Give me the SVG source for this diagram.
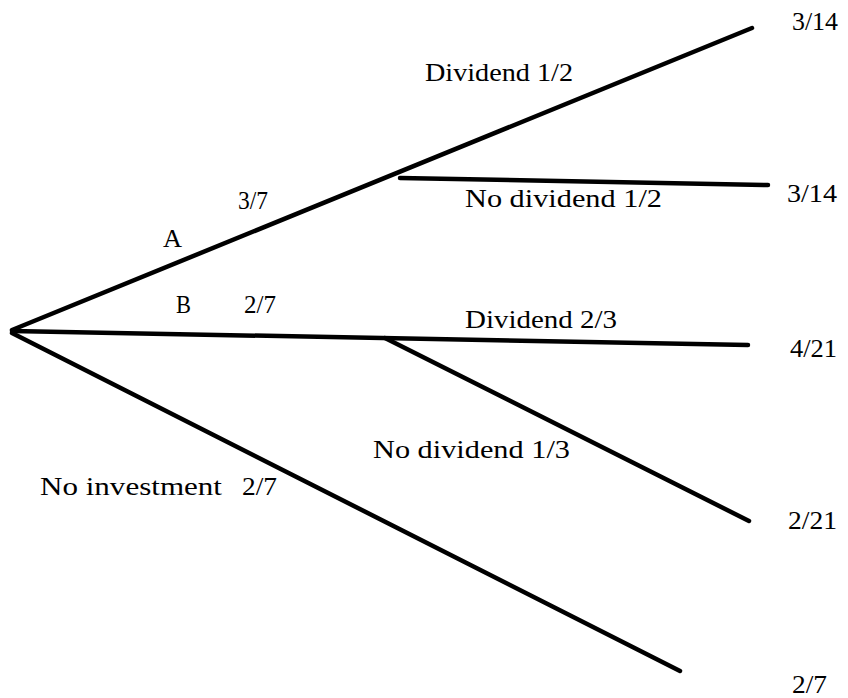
<svg xmlns="http://www.w3.org/2000/svg" width="848" height="698" viewBox="0 0 848 698">
<style>
.e{stroke:#000;stroke-width:4.5;stroke-linecap:round;fill:none}
.t{font-family:"Liberation Serif","Times New Roman",serif;font-size:25px;fill:#000}
</style>
<rect width="848" height="698" fill="#fff"/>
<g id="connectors">
<line class="e" x1="12" y1="330" x2="752" y2="28"/>
<line class="e" x1="400" y1="178" x2="768" y2="185"/>
<line class="e" x1="12" y1="331" x2="748" y2="345"/>
<line class="e" x1="385" y1="338" x2="749" y2="521"/>
<line class="e" x1="12" y1="333" x2="680" y2="671"/>
</g>
<g id="labels">
<text class="t" x="425" y="81" textLength="148" lengthAdjust="spacingAndGlyphs">Dividend 1/2</text>
<text class="t" x="238" y="209" textLength="30" lengthAdjust="spacingAndGlyphs">3/7</text>
<text class="t" x="465" y="207" textLength="197" lengthAdjust="spacingAndGlyphs">No dividend 1/2</text>
<text class="t" x="163" y="247" textLength="19" lengthAdjust="spacingAndGlyphs">A</text>
<text class="t" x="176" y="313" textLength="15" lengthAdjust="spacingAndGlyphs">B</text>
<text class="t" x="244" y="313" textLength="32" lengthAdjust="spacingAndGlyphs">2/7</text>
<text class="t" x="465" y="328" textLength="152" lengthAdjust="spacingAndGlyphs">Dividend 2/3</text>
<text class="t" x="373" y="458" textLength="197" lengthAdjust="spacingAndGlyphs">No dividend 1/3</text>
<text class="t" x="40" y="495" textLength="182" lengthAdjust="spacingAndGlyphs">No investment</text>
<text class="t" x="242" y="495" textLength="35" lengthAdjust="spacingAndGlyphs">2/7</text>
</g>
<g id="outcome-1"><text class="t" x="792" y="30" textLength="46" lengthAdjust="spacingAndGlyphs">3/14</text></g>
<g id="outcome-2"><text class="t" x="787" y="202" textLength="50" lengthAdjust="spacingAndGlyphs">3/14</text></g>
<g id="outcome-3"><text class="t" x="790" y="357" textLength="47" lengthAdjust="spacingAndGlyphs">4/21</text></g>
<g id="outcome-4"><text class="t" x="788" y="529" textLength="49" lengthAdjust="spacingAndGlyphs">2/21</text></g>
<g id="outcome-5"><text class="t" x="792" y="693" textLength="35" lengthAdjust="spacingAndGlyphs">2/7</text></g>
</svg>
